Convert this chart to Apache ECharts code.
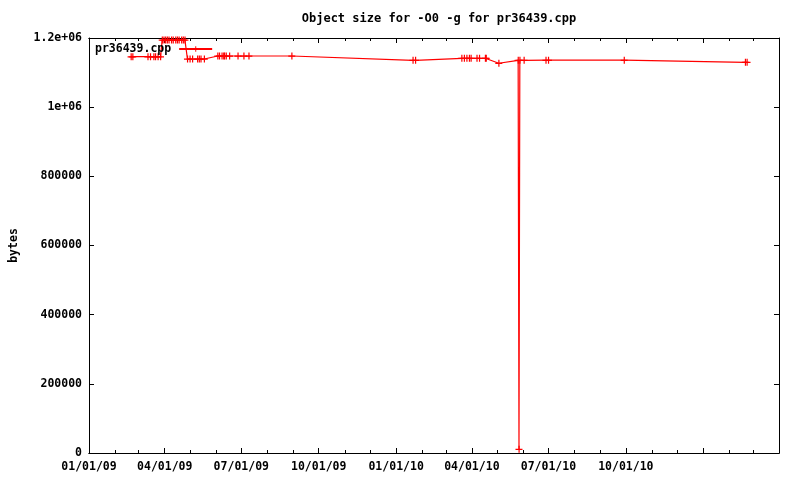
<!DOCTYPE html>
<html>
<head>
<meta charset="utf-8">
<script src="https://cdn.jsdelivr.net/npm/echarts@6/dist/echarts.min.js"></script>
<style>html,body{margin:0;padding:0;background:#fff}#c{width:800px;height:480px}</style>
</head>
<body>
<div id="c"></div>
<script>
const seriesName = 'pr36439.cpp';
const titleText = 'Object size for -O0 -g for pr36439.cpp';
const yAxisName = 'bytes';
const dates = [
  '2009-02-20','2009-02-22','2009-03-12','2009-03-15','2009-03-19','2009-03-21','2009-03-24','2009-03-27',
  '2009-03-29','2009-03-31','2009-04-02','2009-04-04','2009-04-06','2009-04-09','2009-04-11','2009-04-14','2009-04-16','2009-04-18','2009-04-21','2009-04-23','2009-04-25',
  '2009-04-28','2009-05-01','2009-05-04','2009-05-10','2009-05-12','2009-05-14','2009-05-18',
  '2009-06-03','2009-06-05','2009-06-08','2009-06-10','2009-06-11','2009-06-13','2009-06-17','2009-06-27','2009-07-04','2009-07-10','2009-08-30',
  '2010-01-21','2010-01-24',
  '2010-03-20','2010-03-23','2010-03-26','2010-03-29','2010-03-31','2010-04-07','2010-04-10','2010-04-17','2010-04-18',
  '2010-05-03',
  '2010-05-26','2010-05-27','2010-05-28','2010-06-02','2010-06-28','2010-07-01','2010-09-29',
  '2011-02-20','2011-02-22'
];
const values = [
  1145900,1145900,1145900,1145900,1145900,1145900,1145900,1145900,
  1194000,1194000,1194000,1194000,1194000,1194000,1194000,1194000,1194000,1194000,1194000,1194000,1194000,
  1139300,1139300,1139300,1139300,1139300,1139300,1139300,
  1148000,1148000,1148000,1148000,1148000,1148000,1148000,1148000,1148000,1148000,1148000,
  1135500,1135500,
  1141300,1141300,1141300,1141300,1141300,1141300,1141300,1141300,1141300,
  1127000,
  1135500,11000,1135500,1135500,1135800,1135800,1135800,
  1129800,1129800
];
const xMinDate = '2009-01-01';
const xMaxDate = '2011-04-01';
const quarterTicks = ['2009-01-01','2009-04-01','2009-07-01','2009-10-01','2010-01-01','2010-04-01','2010-07-01','2010-10-01','2011-01-01','2011-04-01'];
const labelTicks = ['2009-01-01','2009-04-01','2009-07-01','2009-10-01','2010-01-01','2010-04-01','2010-07-01','2010-10-01'];
const yTickLabels = {0:'0',200000:'200000',400000:'400000',600000:'600000',800000:'800000',1000000:'1e+06',1200000:'1.2e+06'};

function ts(s){const p=s.split('-').map(Number);return Date.UTC(p[0],p[1]-1,p[2]);}
const monthTicks=[];
for(let y=2009;y<=2011;y++){for(let m=0;m<12;m++){const t=Date.UTC(y,m,1);if(t>=ts(xMinDate)&&t<=ts(xMaxDate))monthTicks.push(t);}}
function fmt(v){const d=new Date(v);const p=n=>String(n).padStart(2,'0');return p(d.getUTCMonth()+1)+'/'+p(d.getUTCDate())+'/'+p(d.getUTCFullYear()%100);}

const data = dates.map((d,i)=>[ts(d), values[i]]);
const font = "'DejaVu Sans Mono', monospace";
const plus = 'path://M0,3h7v1.2h-7z M3,0h1.2v7h-1.2z';

function xAx(pos, ticks, len, labels){
  return {type:'value', position:pos, min:ts(xMinDate), max:ts(xMaxDate),
    axisLine:{show:true,onZero:false,lineStyle:{color:'#000',width:1}},
    axisTick:{show:true,inside:true,length:len,customValues:ticks,lineStyle:{color:'#000'}},
    axisLabel:labels?{show:true,customValues:labelTicks.map(ts),formatter:fmt,color:'#000',fontFamily:font,fontWeight:'bold',fontSize:11.5,margin:8}:{show:false},
    splitLine:{show:false}};
}
function yAx(pos, labels){
  return {type:'value', position:pos, min:0, max:1200000, interval:200000,
    axisLine:{show:true,onZero:false,lineStyle:{color:'#000',width:1}},
    axisTick:{show:true,inside:true,length:5,lineStyle:{color:'#000'}},
    axisLabel:labels?{show:true,formatter:v=>yTickLabels[v]!==undefined?yTickLabels[v]:String(v),color:'#000',fontFamily:font,fontWeight:'bold',fontSize:11.5,margin:7,padding:[4,0,0,0]}:{show:false},
    splitLine:{show:false},
    name: labels?yAxisName:'', nameLocation:'middle', nameGap:69, nameRotate:90,
    nameTextStyle:{color:'#000',fontFamily:font,fontWeight:'bold',fontSize:11.5}};
}

const chart = echarts.init(document.getElementById('c'), null, {renderer:'canvas'});
chart.setOption({
  animation:false,
  backgroundColor:'#fff',
  title:{text:titleText,left:434,textAlign:'center',top:8,textStyle:{color:'#000',fontFamily:font,fontWeight:'bold',fontSize:12}},
  legend:{data:[seriesName],left:95,top:43,align:'right',itemWidth:33,itemHeight:7,padding:0,
    textStyle:{color:'#000',fontFamily:font,fontWeight:'bold',fontSize:11.5,padding:[0,3,0,0]}},
  grid:{left:89,right:21,top:38,bottom:27,containLabel:false,outerBoundsMode:'none'},
  xAxis:[xAx('bottom',quarterTicks.map(ts),5,true),xAx('bottom',monthTicks,3,false),xAx('top',quarterTicks.map(ts),5,false),xAx('top',monthTicks,3,false)],
  yAxis:[yAx('left',true),yAx('right',false)],
  series:[{name:seriesName,type:'line',xAxisIndex:0,yAxisIndex:0,data:data,
    symbol:plus,symbolSize:7,showAllSymbol:true,
    lineStyle:{color:'#ff0000',width:1.2},itemStyle:{color:'#ff0000'},clip:false}]
});
</script>
</body>
</html>
